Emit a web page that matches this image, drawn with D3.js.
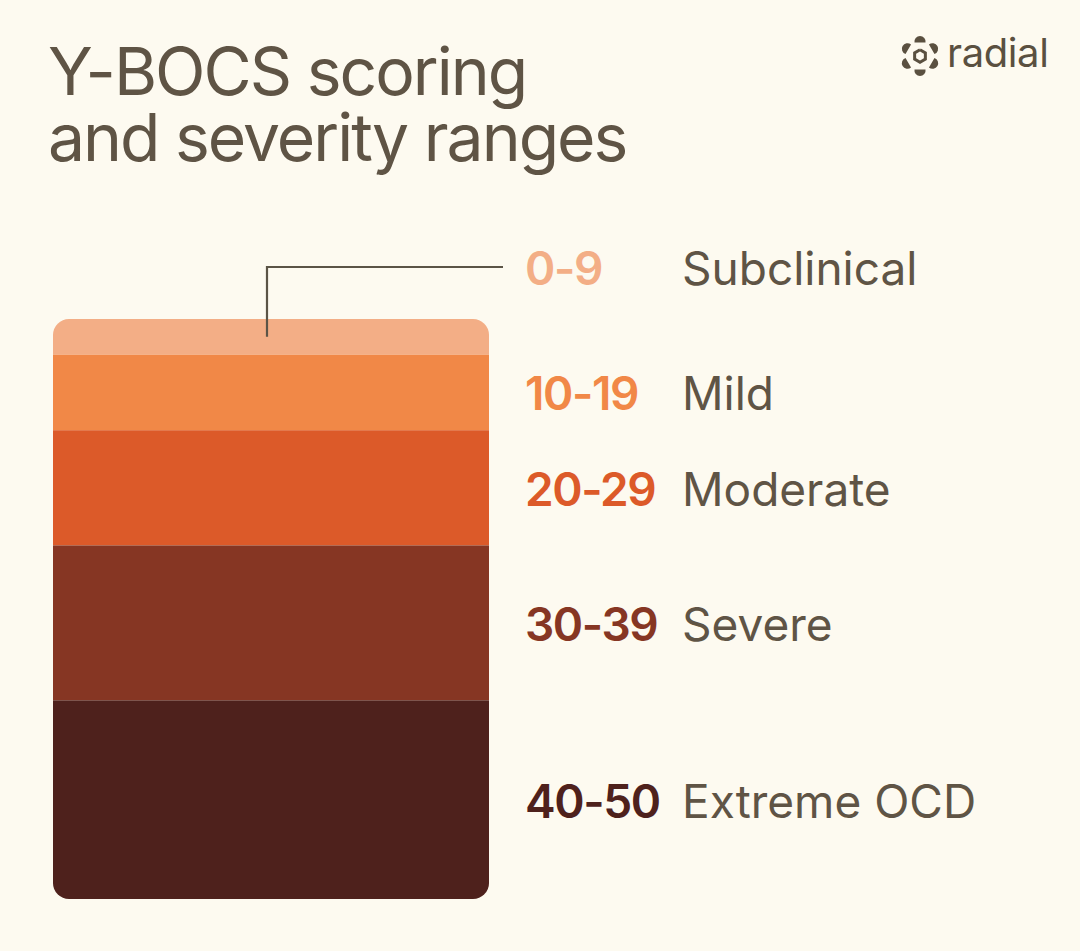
<!DOCTYPE html>
<html>
<head>
<meta charset="utf-8">
<script src="https://cdn.jsdelivr.net/npm/d3@7"></script>
<style>
  html, body { margin: 0; padding: 0; background: #fdfaf0; }
  svg { display: block; }
</style>
</head>
<body>
<div id="chart"></div>
<script>
// severity bands, top to bottom
const severityNames = ["Subclinical", "Mild", "Moderate", "Severe", "Extreme OCD"]
const rangeLabels = ["0-9", "10-19", "20-29", "30-39", "40-50"]
const bandUpper = [9, 19, 29, 39, 50]   // band height follows the upper score
const bandColors = ["#f3ae86", "#f18847", "#dc5a29", "#863623", "#4e211c"]
const titleLines = ["Y-BOCS scoring", "and severity ranges"]

const width = 1080, height = 951
const bg = "#fdfaf0", ink = "#5f5445"
const font = "Inter, 'Liberation Sans', sans-serif"

const svg = d3.select("#chart")
  .append("svg")
  .attr("width", width)
  .attr("height", height)

svg.append("rect")
  .attr("width", width).attr("height", height)
  .attr("fill", bg)

// title (one text, two lines)
svg.append("text")
  .attr("font-family", font)
  .attr("font-size", "66px")
  .attr("letter-spacing", "-2px")
  .attr("fill", ink)
  .selectAll("tspan")
  .data(titleLines)
  .join("tspan")
  .attr("x", 48)
  .attr("y", (d, i) => 95 + i * 66)
  .text(d => d)

// logo: six petals round a hex ring
const logoInk = "#5a5040"
const logo = svg.append("g").attr("transform", "translate(920,56)")
const deg = Math.PI / 180
const petal = (a, dist, r) => {
  const cx = dist * Math.cos(a), cy = dist * Math.sin(a)
  const spread = 100 * deg
  const p = d3.path()
  p.moveTo(cx + r * Math.cos(a - spread), cy + r * Math.sin(a - spread))
  p.arc(cx, cy, r, a - spread, a + spread, false)
  p.closePath()
  return p.toString()
}
d3.range(6).forEach(i => {
  logo.append("path")
    .attr("d", petal((i * 60 - 90) * deg, 14.5, 5.6))
    .attr("fill", logoInk)
})
logo.append("path")
  .attr("d", d3.line()(d3.range(7).map(i => {
    const a = (i * 60 - 90) * deg
    return [6.2 * Math.cos(a), 6.2 * Math.sin(a)]
  })))
  .attr("fill", "none")
  .attr("stroke", logoInk)
  .attr("stroke-width", 3)
svg.append("text")
  .attr("x", 947)
  .attr("y", 67)
  .attr("font-family", font)
  .attr("font-size", "40px")
  .attr("letter-spacing", "-0.4px")
  .attr("fill", logoInk)
  .text("radial")

// stacked bar
const barX = 53, barW = 436, barTop = 319, barBottom = 899
const ends = d3.cumsum(bandUpper)
const starts = [0].concat(Array.from(ends).slice(0, -1))
const bands = severityNames.map((name, i) => ({
  name, range: rangeLabels[i], color: bandColors[i],
  y0: starts[i], y1: ends[i]
}))

const y = d3.scaleLinear()
  .domain([0, d3.sum(bandUpper)])
  .range([barTop, barBottom])

svg.append("clipPath")
  .attr("id", "barclip")
  .append("rect")
  .attr("x", barX).attr("y", barTop)
  .attr("width", barW).attr("height", barBottom - barTop)
  .attr("rx", 16)

svg.append("g")
  .attr("clip-path", "url(#barclip)")
  .selectAll("rect")
  .data(bands)
  .join("rect")
  .attr("x", barX)
  .attr("y", d => y(d.y0))
  .attr("width", barW)
  .attr("height", d => y(d.y1) - y(d.y0))
  .attr("fill", d => d.color)

// leader line for the thin top band
const leadX = 267, leadY = 267
svg.append("path")
  .attr("d", `M${leadX},${y(bands[0].y1) - 18}V${leadY}H503`)
  .attr("fill", "none")
  .attr("stroke", "#5b5446")
  .attr("stroke-width", 2.2)

// labels
const labelY = (d, i) => (i == 0 ? leadY : (y(d.y0) + y(d.y1)) / 2) + 18

const labels = svg.append("g")
  .selectAll("g")
  .data(bands)
  .join("g")

labels.append("text")
  .attr("x", 525)
  .attr("y", labelY)
  .attr("font-family", font)
  .attr("font-size", "46px")
  .attr("font-weight", 600)
  .attr("letter-spacing", "-1.4px")
  .attr("fill", d => d.color)
  .text(d => d.range)

labels.append("text")
  .attr("x", 682)
  .attr("y", labelY)
  .attr("font-family", font)
  .attr("font-size", "46px")
  .attr("letter-spacing", "0px")
  .attr("fill", ink)
  .text(d => d.name)
</script>
</body>
</html>
